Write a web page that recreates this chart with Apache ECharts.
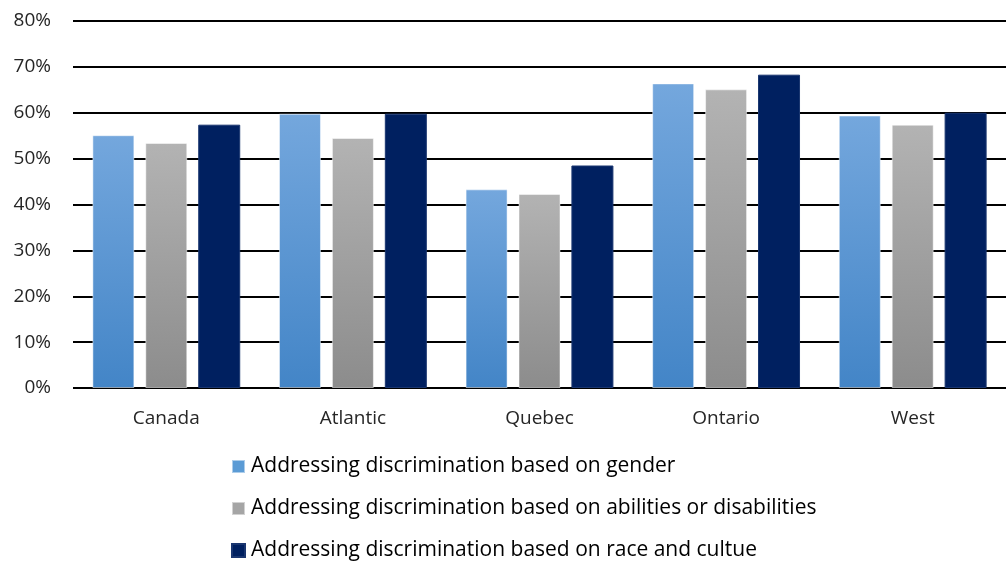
<!DOCTYPE html>
<html><head><meta charset="utf-8">
<script src="https://cdn.jsdelivr.net/npm/echarts@6/dist/echarts.min.js"></script>
<style>html,body{margin:0;padding:0;background:#fff}#c{width:1006px;height:561px}</style>
</head><body><div id="c"></div>
<script>
const categories = ['Canada', 'Atlantic', 'Quebec', 'Ontario', 'West'];
const seriesNames = [
  'Addressing discrimination based on gender',
  'Addressing discrimination based on abilities or disabilities',
  'Addressing discrimination based on race and cultue'
];
const gender = [55.1, 59.8, 43.3, 66.4, 59.4];
const abilities = [53.4, 54.5, 42.3, 65.1, 57.4];
const race = [57.4, 59.8, 48.5, 68.3, 60.0];
const yTicks = [0, 10, 20, 30, 40, 50, 60, 70, 80];

const FONT = 'Open Sans';
const grad = (top, bottom) => new echarts.graphic.LinearGradient(0, 0, 0, 1, [
  { offset: 0, color: top }, { offset: 1, color: bottom }
]);
const colors = [grad('#74a7dd', '#4385c7'), grad('#b3b3b3', '#8c8c8c'), '#002060'];
const legendColors = ['#5b9bd5', '#a5a5a5', '#002060'];
const datas = [gender, abilities, race];
const legendTops = [456, 498, 540];

const chart = echarts.init(document.getElementById('c'), null, { renderer: 'canvas' });
chart.setOption({
  animation: false,
  textStyle: { fontFamily: FONT },
  grid: { left: 73, right: 0, top: 21, bottom: 173, containLabel: false },
  legend: seriesNames.map((n, i) => ({
    orient: 'horizontal', left: 231, top: legendTops[i], padding: 0,
    itemWidth: 13, itemHeight: 13,
    icon: 'rect',
    textStyle: { fontFamily: FONT, fontSize: 21, lineHeight: 20, color: '#000', padding: [0, 0, 0, 1] },
    data: [{ name: n, itemStyle: { color: legendColors[i] } }]
  })),
  xAxis: {
    type: 'category', data: categories,
    axisLine: { show: false }, axisTick: { show: false },
    axisLabel: { fontFamily: FONT, fontSize: 19, color: '#262626', margin: 21 }
  },
  yAxis: {
    type: 'value', min: yTicks[0], max: yTicks[yTicks.length - 1], interval: 10,
    axisLine: { show: false }, axisTick: { show: false },
    axisLabel: { formatter: v => v + '%', fontFamily: FONT, fontSize: 19, color: '#262626', margin: 22 },
    splitLine: { lineStyle: { color: '#000', width: 2 } }
  },
  series: seriesNames.map((n, i) => ({
    name: n, type: 'bar', data: datas[i],
    barWidth: 42, barGap: '26%',
    itemStyle: { color: colors[i], borderColor: i === 2 ? '#1a3670' : 'rgba(255,255,255,0.5)', borderWidth: 1 }
  }))
});
</script></body></html>
